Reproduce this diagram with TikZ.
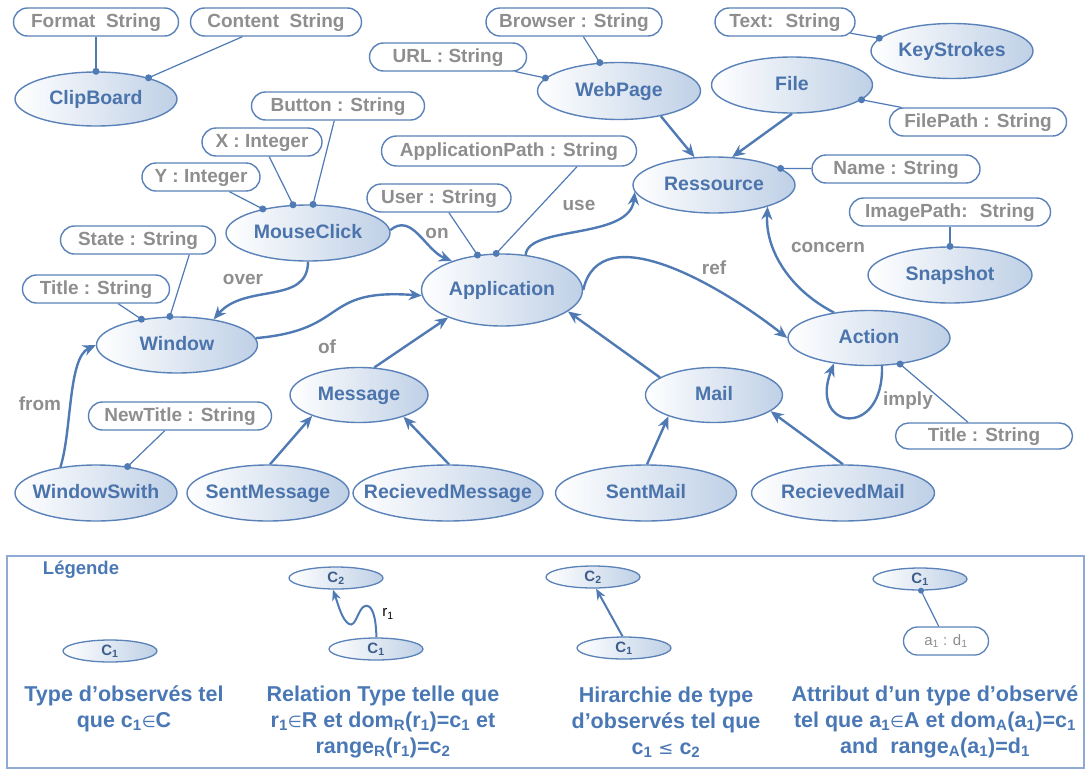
\documentclass[tikz,border=0pt]{standalone}
\usepackage{fontspec}
\setmainfont{Liberation Sans}
\newfontfamily\dvsym{DejaVu Sans}
\usetikzlibrary{shapes.geometric,shapes.misc,arrows.meta}

\definecolor{ellline}{HTML}{5A82B9}
\definecolor{ellfill}{HTML}{BFD0E6}
\definecolor{obstext}{HTML}{4C74AC}
\definecolor{linkblue}{HTML}{4F7AB4}
\definecolor{attrgray}{HTML}{8E8E8E}
\definecolor{legendline}{HTML}{8FABD3}
\definecolor{legblue}{HTML}{4A78B5}

% zero-width text so that the ellipse keeps its given size
\newcommand\zw[1]{\makebox[0pt]{#1}}
% small membership / order symbols
\newcommand\elemof{{\dvsym\mdseries\fontsize{16}{16}\selectfont ∈}}
\newcommand\lesseq{{\dvsym\mdseries\fontsize{18}{18}\selectfont ≤}}

\begin{document}
\begin{tikzpicture}[x=1pt,y=-1pt,
  obs/.style={ellipse, draw=ellline, line width=1.4pt, left color=white, right color=ellfill,
    inner sep=0pt, text=obstext, text height=14pt, text depth=4pt,
    font=\fontsize{19.5}{22}\selectfont\bfseries},
  attr/.style={rounded rectangle, draw=ellline, line width=1.4pt, fill=white, inner sep=0pt,
    minimum height=28pt, text=attrgray, text height=14pt, text depth=4pt,
    font=\fontsize{19}{22}\selectfont\bfseries},
  rel/.style={draw=linkblue, line width=2.4pt, -{Stealth[length=13pt,width=11pt]}},
  smallrel/.style={draw=linkblue, line width=2pt, -{Stealth[length=11pt,width=9pt]}},
  link/.style={draw=linkblue, line width=1.2pt},
  dot/.style={circle, fill=linkblue, inner sep=0pt, minimum size=7pt},
  lbl/.style={text=attrgray, inner sep=0pt, font=\fontsize{19}{22}\selectfont\bfseries},
  lobs/.style={ellipse, draw=ellline, line width=1.3pt, left color=white, right color=ellfill,
    inner sep=0pt, minimum width=94pt, minimum height=22pt, text=obstext!80!black,
    text height=11pt, text depth=2pt, font=\fontsize{15}{16}\selectfont\bfseries},
  legtext/.style={text=legblue, align=center, inner sep=0pt,
    font=\fontsize{21.5}{26}\selectfont\bfseries},
]
\useasboundingbox (0,0) rectangle (1089,774);

% ---------------- observation types ----------------
\node[obs, minimum width=162pt, minimum height=54pt] (clip)  at (96,99)   {\zw{ClipBoard}};
\node[obs, minimum width=163pt, minimum height=57pt] (web)   at (619,91)  {\zw{WebPage}};
\node[obs, minimum width=162pt, minimum height=55pt] (keys)  at (952,51)  {\zw{KeyStrokes}};
\node[obs, minimum width=161pt, minimum height=56pt] (file)  at (792,85)  {\zw{File}};
\node[obs, minimum width=162pt, minimum height=56pt] (res)   at (714,185) {\zw{Ressource}};
\node[obs, minimum width=164pt, minimum height=56pt] (mouse) at (308,233) {\zw{MouseClick}};
\node[obs, minimum width=161pt, minimum height=72pt] (app)   at (502,290) {\zw{Application}};
\node[obs, minimum width=161pt, minimum height=56pt] (win)   at (177,345) {\zw{Window}};
\node[obs, minimum width=164pt, minimum height=56pt] (snap)  at (950,275) {\zw{Snapshot}};
\node[obs, minimum width=162pt, minimum height=55pt] (act)   at (869,338) {\zw{Action}};
\node[obs, minimum width=138pt, minimum height=55pt] (msg)   at (359,395) {\zw{Message}};
\node[obs, minimum width=137pt, minimum height=55pt] (mail)  at (714,395) {\zw{Mail}};
\node[obs, minimum width=162pt, minimum height=56pt] (ws)    at (96,493)  {\zw{WindowSwith}};
\node[obs, minimum width=162pt, minimum height=56pt] (sm)    at (268,493) {\zw{SentMessage}};
\node[obs, minimum width=190pt, minimum height=56pt] (rm)    at (448,493) {\zw{RecievedMessage}};
\node[obs, minimum width=181pt, minimum height=56pt] (smail) at (646,493) {\zw{SentMail}};
\node[obs, minimum width=183pt, minimum height=56pt] (rmail) at (843,493) {\zw{RecievedMail}};

% ---------------- attributes ----------------
\node[attr, minimum width=165pt] (fmt)    at (96,22)   {\zw{Format~ String}};
\node[attr, minimum width=171pt] (cont)   at (276,22)  {\zw{Content~ String}};
\node[attr, minimum width=173pt] (btn)    at (338,106) {\zw{Button : String}};
\node[attr, minimum width=120pt] (xint)   at (262,142) {\zw{X : Integer}};
\node[attr, minimum width=118pt] (yint)   at (201,177) {\zw{Y : Integer}};
\node[attr, minimum width=176pt] (brow)   at (574,22)  {\zw{Browser : String}};
\node[attr, minimum width=157pt] (url)    at (448,57)  {\zw{URL : String}};
\node[attr, minimum width=140pt] (txt)    at (785,22)  {\zw{Text:~ String}};
\node[attr, minimum width=177pt] (fpath)  at (978,122) {\zw{FilePath : String}};
\node[attr, minimum width=255pt, minimum height=30pt] (apath) at (509,151) {\zw{ApplicationPath : String}};
\node[attr, minimum width=168pt] (name)   at (896,169) {\zw{Name : String}};
\node[attr, minimum width=144pt] (user)   at (439,198) {\zw{User : String}};
\node[attr, minimum width=201pt] (img)    at (950,212) {\zw{ImagePath:~ String}};
\node[attr, minimum width=155pt] (state)  at (138,240) {\zw{State : String}};
\node[attr, minimum width=147pt] (wtitle) at (96,289)  {\zw{Title : String}};
\node[attr, minimum width=183pt] (newt)   at (180,416) {\zw{NewTitle : String}};
\node[attr, minimum width=177pt, minimum height=26pt] (atitle) at (984,436) {\zw{Title : String}};

% ---------------- attribute links ----------------
\draw[link] (clip.90)   node[dot] (d1) {}  -- (fmt);
\draw[link] (clip.22)   node[dot] (d2) {}  -- (cont);
\draw[link] (mouse.80)  node[dot] (d3) {}  -- (btn);
\draw[link] (mouse.118) node[dot] (d4) {}  -- (xint);
\draw[link] (mouse.152) node[dot] (d5) {}  -- (yint);
\draw[link] (web.124)   node[dot] (d6) {}  -- (brow);
\draw[link] (web.170)   node[dot] (d7) {}  -- (url);
\draw[link] (keys.170)  node[dot] (d8) {}  -- (txt);
\draw[link] (file.-12)  node[dot] (d9) {}  -- (fpath);
\draw[link] (app.99)    node[dot] (d10) {} -- (apath.-13);
\draw[link] (app.125)   node[dot] (d11) {} -- (user);
\draw[link] (res.14)    node[dot] (d12) {} -- (name);
\draw[link] (snap.90)   node[dot] (d13) {} -- (img);
\draw[link] (win.104)   node[dot] (d14) {} -- (state.-16);
\draw[link] (win.144)   node[dot] (d15) {} -- (wtitle);
\draw[link] (ws.40)     node[dot] (d16) {} -- (newt);
\draw[link] (act.-40)   node[dot] (d17) {} -- (atitle);

% ---------------- hierarchy ----------------
\draw[rel] (web.-31)   -- (res.125);
\draw[rel] (file.-90)  -- (res.57);
\draw[rel] (msg.61)    -- (app.207);
\draw[rel] (mail.162)  -- (app.-18);
\draw[rel] (sm.86)     -- (msg.204);
\draw[rel] (rm.88)     -- (msg.-26);
\draw[rel] (smail.88)  -- (mail.205);
\draw[rel] (rmail.90)  -- (mail.-16);

% ---------------- relations ----------------
\draw[rel] (mouse.2) .. controls (412,212) and (425,250) .. (app.150);
\draw[rel] (mouse.-90) .. controls (308,305) and (245,283) .. (win.35);
\draw[rel] (win.5) .. controls (350,330) and (320,288) .. (app.184);
\draw[rel] (ws.144) .. controls (72,430) and (68,358) .. (win.180);
\draw[rel] (app.56) .. controls (528,225) and (630,240) .. (res.185);
\draw[rel] (app.0) .. controls (600,215) and (720,285) .. (act.180);
\draw[rel] (act.144) .. controls (790,290) and (765,250) .. (res.-22);
\draw[rel] (act.-65) .. controls (884,440) and (808,430) .. (act.216);

\node[lbl] (lon)      at (437,233) {on};
\node[lbl] (lover)    at (243,279) {over};
\node[lbl] (lof)      at (327,347) {of};
\node[lbl] (lfrom)    at (40,404)  {from};
\node[lbl] (luse)     at (579,205) {use};
\node[lbl] (lref)     at (714,268) {ref};
\node[lbl] (lconcern) at (828,247) {concern};
\node[lbl] (limply)   at (908,401) {imply};

% ---------------- legend ----------------
\draw[draw=legendline, line width=2pt] (7,556) rectangle (1084,768);
\node[text=legblue, inner sep=0pt, font=\fontsize{18.5}{20}\selectfont\bfseries] (ltitle) at (81,570) {Légende};

\node[lobs] (ltype) at (110,651) {\zw{C\textsubscript{1}}};

\node[lobs] (lrc2) at (336,578) {\zw{C\textsubscript{2}}};
\node[lobs] (lrc1) at (376,649) {\zw{C\textsubscript{1}}};
\draw[smallrel] (lrc1.88) .. controls (376,616) and (372,604) .. (365,606)
                .. controls (358,608) and (356,628) .. (349,624)
                .. controls (342,620) and (338,604) .. (lrc2.-105);
\node[inner sep=0pt, font=\fontsize{15}{16}\selectfont] (lr1) at (388,614) {r\textsubscript{1}};

\node[lobs] (lhc2) at (593,577) {\zw{C\textsubscript{2}}};
\node[lobs] (lhc1) at (624,648) {\zw{C\textsubscript{1}}};
\draw[smallrel] (lhc1.97) -- (lhc2.-75);

\node[lobs] (lac1) at (920,579) {\zw{C\textsubscript{1}}};
\node[rounded rectangle, draw=ellline, line width=1.3pt, fill=white, inner sep=0pt,
      minimum width=85pt, minimum height=28pt, text=attrgray,
      font=\fontsize{15}{16}\selectfont] (lad) at (946,641) {\zw{a\textsubscript{1} : d\textsubscript{1}}};
\draw[link] (lac1.-85) node[dot, minimum size=6pt] (d18) {} -- (lad);

\node[legtext] (ltxt1) at (124,709) {Type d’observés tel\\que c\textsubscript{1}\elemof C};
\node[legtext] (ltxt2) at (383,722) {Relation Type telle que\\r\textsubscript{1}\elemof R et dom\textsubscript{R}(r\textsubscript{1})=c\textsubscript{1} et\\range\textsubscript{R}(r\textsubscript{1})=c\textsubscript{2}};
\node[legtext] (ltxt3) at (666,722) {Hirarchie de type\\d’observés tel que\\c\textsubscript{1} \lesseq{} c\textsubscript{2}};
\node[legtext] (ltxt4) at (935,722) {Attribut d’un type d’observé\\tel que a\textsubscript{1}\elemof A et dom\textsubscript{A}(a\textsubscript{1})=c\textsubscript{1}\\and~ range\textsubscript{A}(a\textsubscript{1})=d\textsubscript{1}};
\end{tikzpicture}
\end{document}
